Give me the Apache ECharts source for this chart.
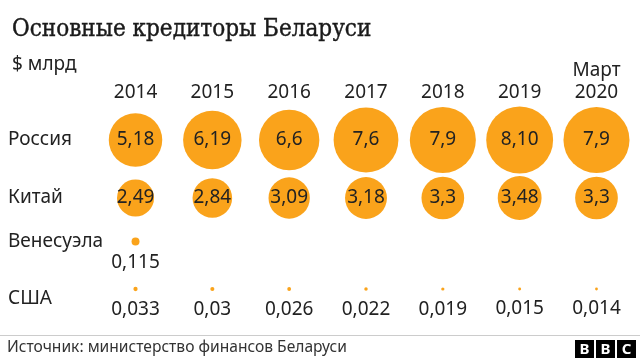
<!DOCTYPE html>
<html>
<head>
<meta charset="utf-8">
<script src="https://cdn.jsdelivr.net/npm/echarts@6/dist/echarts.min.js"></script>
<style>
html,body{margin:0;padding:0;background:#fff;}
#c{width:640px;height:363px;}
</style>
</head>
<body>
<div id="c"></div>
<script>
// ---- data ----
var years = ['2014', '2015', '2016', '2017', '2018', '2019', 'Март\n2020'];
var rows = ['Россия', 'Китай', 'Венесуэла', 'США'];
var russia = ['5.18', '6.19', '6.6', '7.6', '7.9', '8.10', '7.9'];
var china = ['2.49', '2.84', '3.09', '3.18', '3.3', '3.48', '3.3'];
var venezuela = ['0.115', null, null, null, null, null, null];
var usa = ['0.033', '0.03', '0.026', '0.022', '0.019', '0.015', '0.014'];
var titleText = 'Основные кредиторы Беларуси';
var unitText = '$ млрд';
var sourceText = 'Источник: министерство финансов Беларуси';

// ---- layout ----
var FONT = '"Noto Sans", "Open Sans", sans-serif';
var ORANGE = '#FAA31B';
var TEXT = '#222222';
var rowCenters = [140, 198, 241.5, 289];
var valueDist = [5, 5, 8, 9];
var gridLeft = 97.1, gridRight = 5.1;
var K = 23.5; // diameter per sqrt(value)
var seriesVals = [russia, china, venezuela, usa];

var grids = [], xAxes = [], yAxes = [], series = [];
rows.forEach(function (name, i) {
  grids.push({ left: gridLeft, right: gridRight, top: rowCenters[i] - 10, height: 20, containLabel: false });
  xAxes.push({
    type: 'category', gridIndex: i, data: years, boundaryGap: true,
    position: 'top',
    axisLine: { show: false }, axisTick: { show: false }, splitLine: { show: false },
    axisLabel: {
      show: i === 0, interval: 0, margin: 26,
      fontFamily: FONT, fontSize: 19, color: TEXT, lineHeight: 22
    }
  });
  yAxes.push({
    type: 'category', gridIndex: i, data: [name],
    axisLine: { show: false }, axisTick: { show: false }, splitLine: { show: false },
    axisLabel: {
      show: true, align: 'left', margin: gridLeft - 8,
      verticalAlign: i === 3 ? 'top' : 'middle',
      fontFamily: FONT, fontSize: 19, color: TEXT
    }
  });
  var data = [];
  seriesVals[i].forEach(function (s, j) {
    if (s !== null) data.push([years[j], name, parseFloat(s), s.replace('.', ',')]);
  });
  var big = i < 2;
  series.push({
    type: 'scatter', xAxisIndex: i, yAxisIndex: i, data: data,
    symbol: 'circle',
    symbolSize: function (d) { return K * Math.sqrt(d[2]); },
    itemStyle: { color: ORANGE, opacity: 1 },
    emphasis: { disabled: true },
    silent: true,
    label: {
      show: true, position: big ? 'inside' : 'bottom', distance: valueDist[i],
      formatter: function (p) { return p.data[3]; },
      fontFamily: FONT, fontSize: 19, color: TEXT
    }
  });
});

var chart = echarts.init(document.getElementById('c'), null, { renderer: 'canvas' });
chart.setOption({
  animation: false,
  backgroundColor: '#ffffff',
  title: [
    { text: titleText, left: 7, top: 13, textStyle: { fontFamily: '"DejaVu Serif Condensed", "DejaVu Serif", serif', fontSize: 24, fontWeight: 'normal', color: '#1a1a1a', textBorderColor: '#1a1a1a', textBorderWidth: 0.4 } },
    { text: unitText, left: 7, top: 50, textStyle: { fontFamily: FONT, fontSize: 19, fontWeight: 'normal', color: TEXT } }
  ],
  grid: grids,
  xAxis: xAxes,
  yAxis: yAxes,
  series: series,
  graphic: [
    { type: 'line', shape: { x1: 0, y1: 335.5, x2: 640, y2: 335.5 }, style: { stroke: '#cccccc', lineWidth: 1 } },
    { type: 'text', left: 7, top: 340, style: { text: sourceText, font: '15.6px ' + FONT, fill: '#333333' } },
    { type: 'group', left: 575, top: 340, children: ['B', 'B', 'C'].map(function (ch, k) {
        return { type: 'group', x: k * 21, children: [
          { type: 'rect', shape: { x: 0, y: 0, width: 19, height: 18 }, style: { fill: '#000000' } },
          { type: 'text', x: 9.5, y: 9.5, style: { text: ch, font: 'bold 15px ' + FONT, fill: '#ffffff', align: 'center', verticalAlign: 'middle' } }
        ] };
      }) }
  ]
});
</script>
</body>
</html>
